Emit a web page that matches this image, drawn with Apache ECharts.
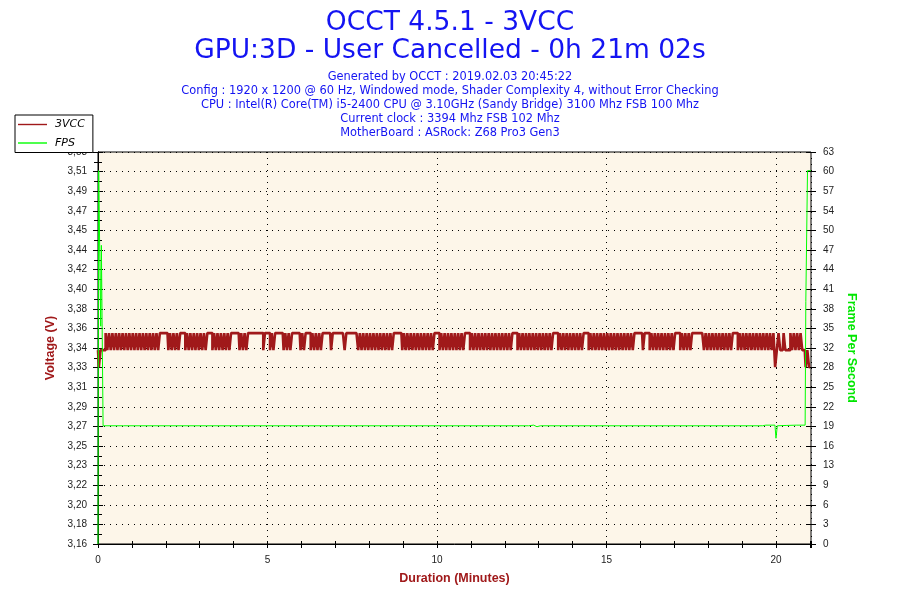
<!DOCTYPE html>
<html>
<head>
<meta charset="utf-8">
<script src="https://cdn.jsdelivr.net/npm/echarts@6/dist/echarts.min.js"></script>
<style>
html,body{margin:0;padding:0;background:#fff;}
#chart{width:900px;height:600px;}
</style>
</head>
<body>
<div id="chart"></div>
<script>
// ---------- DATA ----------
const titleLines = ['OCCT 4.5.1 - 3VCC', 'GPU:3D - User Cancelled - 0h 21m 02s'];
const infoLines = [
  'Generated by OCCT : 2019.02.03 20:45:22',
  'Config : 1920 x 1200 @ 60 Hz, Windowed mode, Shader Complexity 4, without Error Checking',
  'CPU : Intel(R) Core(TM) i5-2400 CPU @ 3.10GHz (Sandy Bridge) 3100 Mhz FSB 100 Mhz',
  'Current clock : 3394 Mhz FSB 102 Mhz',
  'MotherBoard : ASRock: Z68 Pro3 Gen3'
];
const seriesNames = ['3VCC', 'FPS'];
const durationMinutes = 21.033;      // 0h 21m 02s
const sampleStepMinutes = 0.05;      // one voltage reading every 3 s

const voltMin = 3.16;
const voltStep = 0.0184;
const voltTickLabels = ['3,16','3,18','3,20','3,22','3,23','3,25','3,27','3,29','3,31','3,33','3,34',
  '3,36','3,38','3,40','3,42','3,44','3,45','3,47','3,49','3,51','3,53'];
const fpsMax = 63;
const fpsStep = 3.15;
const fpsTickLabels = ['0','3','6','9','13','16','19','22','25','28','32','35','38','41','44','47','50','54','57','60','63'];

// 3VCC readings (V), one per sample step
const vcc3 = [
3.342,3.326,3.342,3.342,3.342,3.358,3.342,3.358,3.342,3.358,
3.342,3.358,3.342,3.358,3.342,3.358,3.342,3.358,3.342,3.358,
3.342,3.358,3.342,3.358,3.342,3.358,3.342,3.358,3.342,3.358,
3.342,3.358,3.342,3.358,3.342,3.358,3.342,3.358,3.358,3.358,
3.358,3.358,3.342,3.358,3.342,3.358,3.342,3.358,3.342,3.358,
3.358,3.358,3.342,3.358,3.342,3.358,3.342,3.358,3.342,3.358,
3.342,3.358,3.342,3.358,3.342,3.358,3.358,3.358,3.342,3.358,
3.342,3.358,3.342,3.358,3.342,3.358,3.342,3.358,3.342,3.358,
3.358,3.358,3.358,3.358,3.342,3.358,3.342,3.358,3.342,3.358,
3.358,3.358,3.358,3.358,3.358,3.358,3.358,3.358,3.342,3.358,
3.358,3.358,3.342,3.358,3.342,3.358,3.358,3.358,3.358,3.358,
3.342,3.358,3.342,3.358,3.342,3.358,3.358,3.358,3.358,3.358,
3.342,3.358,3.342,3.358,3.358,3.358,3.342,3.358,3.342,3.358,
3.342,3.358,3.342,3.358,3.358,3.358,3.358,3.358,3.342,3.358,
3.358,3.358,3.358,3.358,3.358,3.358,3.342,3.358,3.358,3.358,
3.358,3.358,3.358,3.358,3.342,3.358,3.342,3.358,3.342,3.358,
3.342,3.358,3.342,3.358,3.342,3.358,3.342,3.358,3.342,3.358,
3.342,3.358,3.342,3.358,3.342,3.358,3.358,3.358,3.358,3.358,
3.342,3.358,3.342,3.358,3.342,3.358,3.342,3.358,3.342,3.358,
3.342,3.358,3.342,3.358,3.342,3.358,3.342,3.358,3.342,3.358,
3.358,3.358,3.342,3.358,3.342,3.358,3.342,3.358,3.342,3.358,
3.342,3.358,3.342,3.358,3.342,3.358,3.342,3.358,3.358,3.358,
3.342,3.358,3.342,3.358,3.342,3.358,3.342,3.358,3.342,3.358,
3.342,3.358,3.342,3.358,3.342,3.358,3.342,3.358,3.342,3.358,
3.342,3.358,3.342,3.358,3.342,3.358,3.358,3.358,3.342,3.358,
3.342,3.358,3.342,3.358,3.342,3.358,3.342,3.358,3.342,3.358,
3.342,3.358,3.342,3.358,3.342,3.358,3.342,3.358,3.342,3.358,
3.358,3.358,3.342,3.358,3.342,3.358,3.342,3.358,3.342,3.358,
3.342,3.358,3.342,3.358,3.342,3.358,3.342,3.358,3.358,3.358,
3.342,3.358,3.342,3.358,3.342,3.358,3.342,3.358,3.342,3.358,
3.342,3.358,3.342,3.358,3.342,3.358,3.342,3.358,3.342,3.358,
3.342,3.358,3.342,3.358,3.342,3.358,3.342,3.358,3.358,3.358,
3.358,3.358,3.342,3.358,3.358,3.358,3.342,3.358,3.342,3.358,
3.342,3.358,3.342,3.358,3.342,3.358,3.342,3.358,3.342,3.358,
3.342,3.358,3.358,3.358,3.342,3.358,3.342,3.358,3.342,3.358,
3.342,3.358,3.358,3.358,3.358,3.358,3.358,3.358,3.342,3.358,
3.342,3.358,3.342,3.358,3.342,3.358,3.342,3.358,3.342,3.358,
3.342,3.358,3.342,3.358,3.342,3.358,3.358,3.358,3.342,3.358,
3.342,3.358,3.342,3.358,3.342,3.358,3.342,3.358,3.342,3.358,
3.342,3.358,3.342,3.358,3.342,3.358,3.342,3.358,3.342,3.358,
3.326,3.342,3.358,3.342,3.342,3.358,3.342,3.342,3.342,3.358,
3.342,3.358,3.342,3.358,3.342,3.358,3.342,3.342,3.326,3.342,
3.326
];

// FPS readings: time (minutes) and frames per second
const fpsTime  = [0, 0.02, 0.07, 0.08, 0.10, 0.13, 0.15, 0.75, 0.77, 0.79, 3.20, 3.22, 3.24, 7.50, 7.52, 7.54,
  12.70, 12.75, 12.85, 12.95, 13.05, 17.40, 17.42, 17.44, 19.60, 19.70, 19.97, 20.00, 20.04, 20.30, 20.60, 20.86, 20.88, 20.92, 20.93, 21.03];
const fpsValue = [0, 60, 60, 35, 48, 48, 19, 19, 19.2, 19, 19, 19.2, 19, 19, 19.1, 19,
  19, 18.85, 19.1, 18.85, 19, 19, 19.2, 19, 19, 19.1, 19.1, 17, 19, 19.05, 19.1, 19.1, 39, 39, 60, 60];

// ---------- BUILD ----------
const vccData = vcc3.map((v, i) => [i * sampleStepMinutes, v]);
const fpsData = fpsTime.map((t, i) => [t, fpsValue[i]]);
const voltMax = voltMin + (voltTickLabels.length - 1) * voltStep;
const voltMajor = voltTickLabels.map((_, k) => voltMin + k * voltStep);
const voltMinor = voltTickLabels.slice(1).map((_, k) => voltMin + (k + 0.5) * voltStep);

const BLUE = '#1414f2';
const RED = '#a0191a';
const GREEN = '#00ff00';
const LBL = {color: '#222', fontFamily: 'Liberation Sans', fontSize: 10};
const dotted = {color: '#000', width: 1, type: [1, 5]};

const titles = [
  {text: titleLines[0], left: 'center', top: 10, padding: 0,
   textStyle: {fontFamily: 'DejaVu Sans', fontSize: 26.5, fontWeight: 'normal', color: BLUE}},
  {text: titleLines[1], left: 'center', top: 38, padding: 0,
   textStyle: {fontFamily: 'DejaVu Sans', fontSize: 26.5, fontWeight: 'normal', color: BLUE}}
].concat(infoLines.map((s, i) => ({
  text: s, left: 'center', top: 71.5 + i * 14, padding: 0,
  textStyle: {fontFamily: 'DejaVu Sans', fontSize: 11.4, fontWeight: 'normal', color: BLUE}
})));

const chart = echarts.init(document.getElementById('chart'), null, {renderer: 'canvas'});
chart.setOption({
  animation: false,
  backgroundColor: '#fff',
  title: titles,
  legend: {
    data: seriesNames, orient: 'vertical', left: 15, top: 115,
    itemWidth: 29, itemHeight: 1.4, icon: 'rect', itemGap: 7.5,
    padding: [4, 8, 4, 3], borderColor: '#000', borderWidth: 1, borderRadius: 0,
    backgroundColor: '#fff',
    textStyle: {fontStyle: 'italic', fontFamily: 'DejaVu Sans', fontSize: 11, color: '#000', padding: [0, 0, 0, 3]}
  },
  grid: {left: 98, right: 89, top: 152, bottom: 56, show: true, backgroundColor: '#fdf6e9',
         borderColor: '#000', borderWidth: 1, containLabel: false},
  xAxis: [
    {type: 'value', min: 0, max: durationMinutes, interval: 5, position: 'bottom',
     name: 'Duration (Minutes)', nameLocation: 'middle', nameGap: 28,
     nameTextStyle: {color: RED, fontWeight: 'bold', fontFamily: 'Liberation Sans', fontSize: 12.5},
     axisLine: {show: true, lineStyle: {color: '#000', width: 1}},
     axisTick: {show: false},
     axisLabel: Object.assign({margin: 11, showMaxLabel: false,
       formatter: v => (Math.abs(v - Math.round(v)) < 1e-6 ? String(Math.round(v)) : '')}, LBL),
     splitLine: {show: true, lineStyle: dotted}},
    {type: 'value', min: 0, max: durationMinutes, interval: 1, position: 'bottom', offset: -3,
     axisLine: {show: false}, axisLabel: {show: false}, splitLine: {show: false},
     axisTick: {show: true, length: 7, lineStyle: {color: '#000'}}}
  ],
  yAxis: [
    {type: 'value', min: voltMin, max: voltMax, position: 'left',
     name: 'Voltage (V)', nameLocation: 'middle', nameGap: 41,
     nameTextStyle: {color: RED, fontWeight: 'bold', fontFamily: 'Liberation Sans', fontSize: 12.5},
     axisLine: {show: true, lineStyle: {color: '#000', width: 1}},
     axisTick: {show: true, length: 4, customValues: voltMinor, lineStyle: {color: '#000'}},
     axisLabel: Object.assign({margin: 11, customValues: voltMajor,
       formatter: v => voltTickLabels[Math.round((v - voltMin) / voltStep)]}, LBL),
     splitLine: {show: false}},
    {type: 'value', min: 0, max: fpsMax, interval: fpsStep, position: 'right',
     name: 'Frame Per Second', nameLocation: 'middle', nameGap: 30, nameRotate: -90,
     nameTextStyle: {color: '#00e600', fontWeight: 'bold', fontFamily: 'Liberation Sans', fontSize: 12.5},
     axisLine: {show: true, lineStyle: {color: '#000', width: 1}},
     axisTick: {show: false},
     minorTick: {show: true, splitNumber: 2, length: 4, lineStyle: {color: '#000'}},
     axisLabel: Object.assign({margin: 12,
       formatter: v => fpsTickLabels[Math.round(v / fpsStep)]}, LBL),
     splitLine: {show: true, lineStyle: dotted}},
    {type: 'value', min: 0, max: 20, interval: 1, position: 'left', offset: -5,
     axisLine: {show: false}, axisLabel: {show: false}, splitLine: {show: false},
     axisTick: {show: true, length: 10, lineStyle: {color: '#000'}}},
    {type: 'value', min: 0, max: 20, interval: 1, position: 'right', offset: -5,
     axisLine: {show: false}, axisLabel: {show: false}, splitLine: {show: false},
     axisTick: {show: true, length: 10, lineStyle: {color: '#000'}}}
  ],
  series: [
    {name: seriesNames[0], type: 'line', xAxisIndex: 0, yAxisIndex: 0, data: vccData,
     step: 'middle', symbol: 'none', color: RED, lineStyle: {color: RED, width: 2.6}, z: 3},
    {name: seriesNames[1], type: 'line', xAxisIndex: 0, yAxisIndex: 1, data: fpsData,
     symbol: 'none', color: GREEN, lineStyle: {color: GREEN, width: 1}, z: 4}
  ]
});
</script>
</body>
</html>
